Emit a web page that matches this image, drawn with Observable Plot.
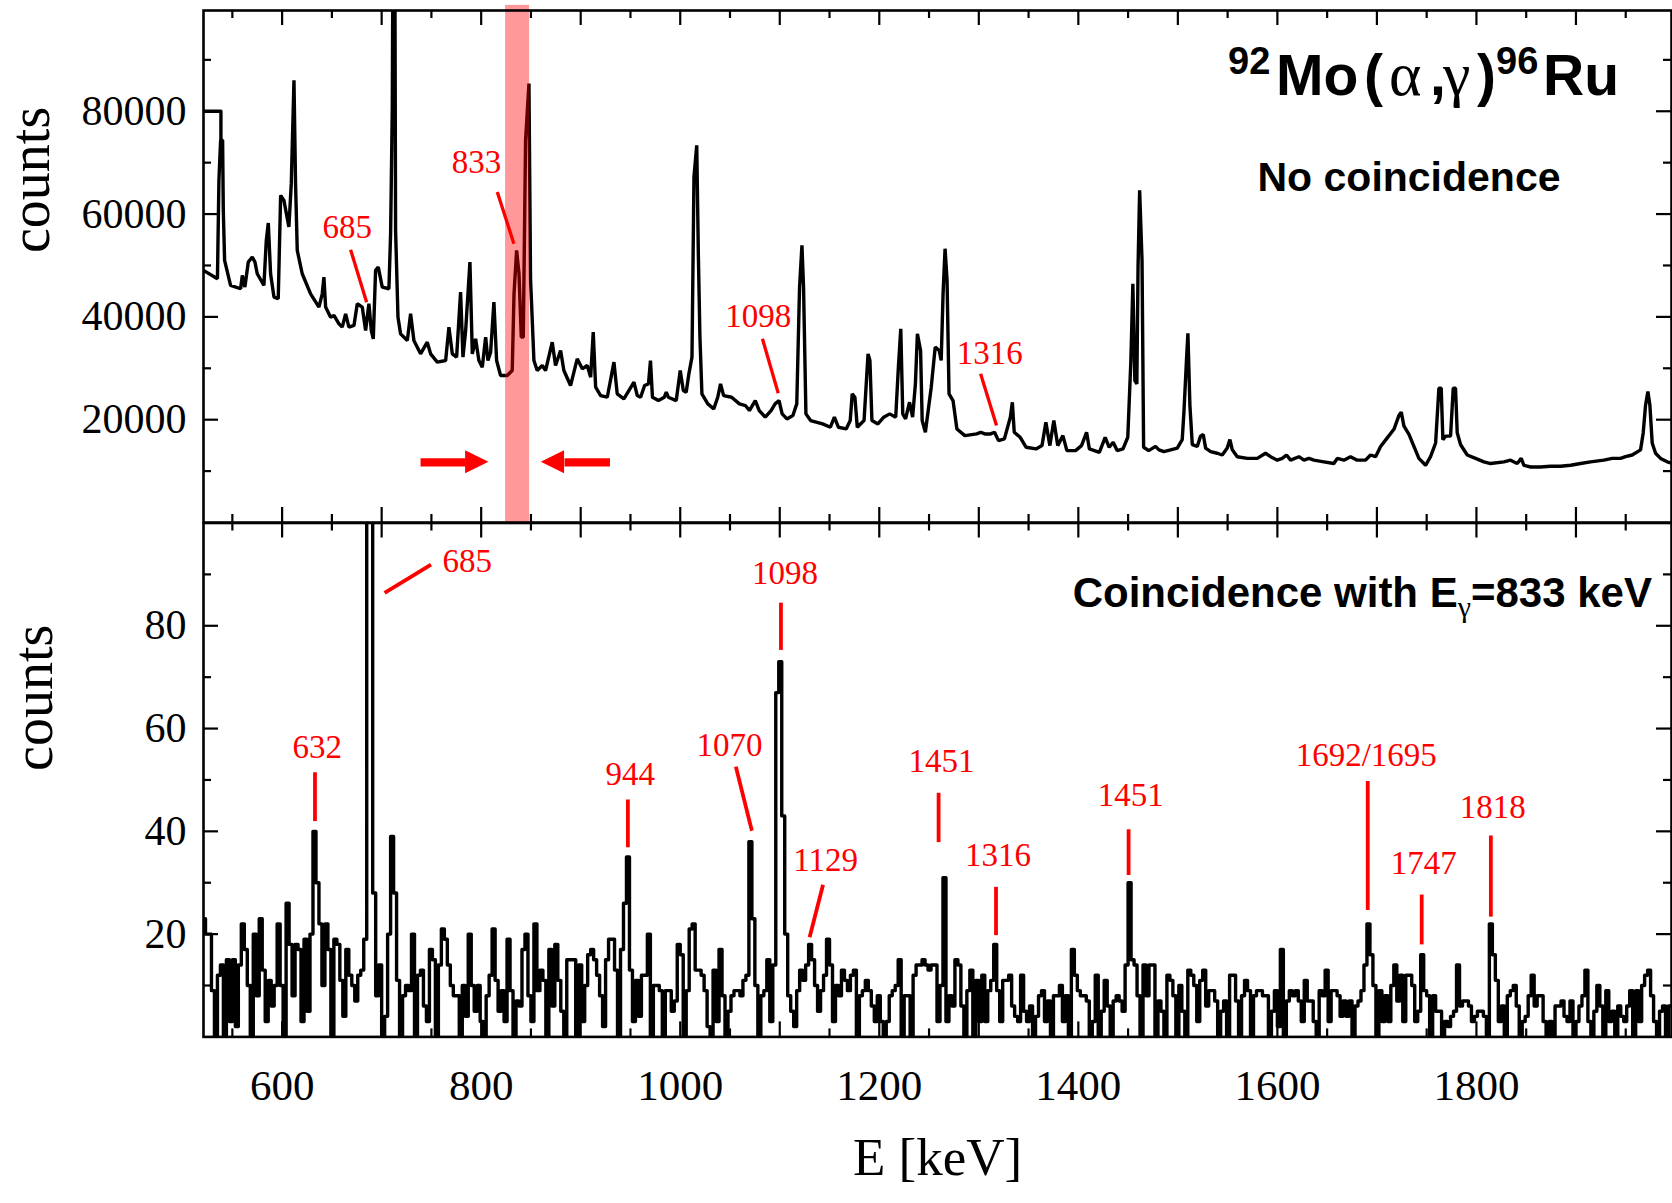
<!DOCTYPE html>
<html>
<head>
<meta charset="utf-8">
<script src="https://cdn.jsdelivr.net/npm/d3@7"></script>
<script src="https://cdn.jsdelivr.net/npm/@observablehq/plot@0.6"></script>
<style>
  html, body { margin: 0; padding: 0; background: #fff; }
  #chart { position: relative; width: 1672px; height: 1203px; overflow: hidden; background: #fff; }
  #top { position: absolute; left: 0; top: 0; }
  #bottom { position: absolute; left: 0; top: 521px; }
  svg { display: block; }
</style>
</head>
<body>
<div id="chart"><div id="bottom"></div><div id="top"></div></div>
<script>
// ---------------- data ----------------
const xTickLabels = [600, 800, 1000, 1200, 1400, 1600, 1800];
const xMajorTicks = [600, 700, 800, 900, 1000, 1100, 1200, 1300, 1400, 1500, 1600, 1700, 1800, 1900];
const xMinorTicks = [550, 650, 750, 850, 950, 1050, 1150, 1250, 1350, 1450, 1550, 1650, 1750, 1850, 1950];
const topYLabels = [20000, 40000, 60000, 80000];
const topYMinor = [10000, 30000, 50000, 70000, 90000];
const botYLabels = [20, 40, 60, 80];
const botYMinor = [10, 30, 50, 70, 90];

// singles spectrum ("No coincidence"): energy [keV] and counts
const topEnergy = [521,535,536.5,538.2,540.2,540.9,542.2,548.2,558.3,560,562.6,566,570,572.7,575,581.7,584.1,586.1,588.4,591.8,596.1,598.5,601.8,606.8,609.2,611.9,613.5,615.2,620.2,628.6,637,640.3,642,643.7,648.7,652.1,657.1,660.4,663.8,667.1,672.2,675.5,680.5,683.9,687.2,689.6,691.6,693.9,696.6,700.6,707.3,709,710.7,711.7,713,714,716.4,719,725.8,729.1,732.4,739.1,745.8,749.2,755.9,764.3,767.6,771,775.3,779.3,781.7,784.4,788.7,791.1,794.4,797.7,801.1,804.5,806.8,809.5,812.8,815.5,819.5,826.2,831.2,833,835.6,838,840.3,842.3,844.6,848,849.6,853,856.3,861.4,864.7,871.4,874.7,879.8,883.1,889.8,896.5,901.6,906.6,910,912.6,915,920,926.7,933.4,936.7,943.4,948.4,953.5,956.8,
960.2,964.2,968.1,970.1,972.1,978.1,984,986,988,996,1000,1003.1,1006,1008.7,1011.8,1013.8,1016.6,1018.2,1019.8,1021.8,1027.7,1033.7,1037.7,1040.5,1043.6,1051.6,1059.5,1065.5,1069.5,1075.4,1079.4,1085.4,1091.3,1095.3,1099.3,1102.4,1107.2,1113.2,1117.1,1119.9,1122.3,1123.9,1126.3,1131,1143,1150.9,1154.9,1158.9,1166.8,1170.8,1172.8,1175.5,1177.9,1184.7,1188.7,1190.6,1192.6,1198.6,1204.5,1210.5,1216.5,1219.2,1221.6,1223.6,1226.4,1230.4,1233.5,1236.3,1238.3,1241.5,1243.1,1246.3,1252.2,1256.2,1260.2,1262.2,1264.1,1266.1,1268.1,1270.1,1274.1,1278,1286,1298,1301.9,1306,1311.8,1315.8,1319.8,1325.7,1331.7,1333.7,1335.6,1341.6,1347.6,1357.5,1363.5,1367.4,1371.4,1375.4,1379.3,1384.5,1388.5,1397.2,1403.2,1408.3,1411.1,1421.1,1427,1431,1435,1439,1444.9,1449.7,1452.8,1454.8,1456.8,1458.8,1460,1461.6,1464,1465.6,1470.7,
1477.6,1481,1486,1492.7,1499.4,1504.4,1506.1,1508.8,1510.1,1512.1,1514.5,1519.5,1522.8,1525.5,1527.9,1532.9,1539.6,1544.6,1549.6,1552.3,1554.7,1559.7,1569.7,1579.8,1588.1,1593.2,1599.9,1604.9,1609.2,1613.3,1621.6,1626.7,1631.7,1636.7,1646.7,1656.8,1660.2,1666.8,1673.5,1680.2,1688.6,1693.6,1698.7,1703.7,1710.4,1717.1,1722.1,1724.5,1727.1,1732.2,1737.2,1742.2,1748.9,1753.9,1759,1762.3,1764.6,1766.3,1769,1774,1776.7,1779,1780.7,1784.1,1790.8,1799.1,1807.5,1814.2,1827.6,1834.3,1841,1845,1847.7,1854.4,1864.4,1874.5,1884.5,1894.6,1904.6,1914.7,1928,1936.4,1944.8,1949.8,1956.5,1964.9,1967.6,1969.9,1972.3,1974.3,1976.6,1980,1985,1991.7,1997];
const topCounts = [49040,47420,66560,74350,74350,60720,50980,46120,45470,48060,45790,50660,51640,50660,48390,46120,54880,58260,48390,43850,43520,63640,62670,57480,65920,86040,65920,52930,48390,44490,41900,44490,47740,41900,39950,40280,38650,38000,40600,38000,38330,42550,41900,37350,42550,37350,35730,49040,49690,45790,45470,56180,80840,130000,130000,56830,39950,36700,35400,40600,35400,32810,35080,32810,31190,31510,38000,32810,32160,44820,32160,37350,50660,32810,35730,31510,30210,36060,31510,33130,42870,31510,28590,28590,29570,44490,52930,48390,36060,36060,74350,85390,47420,31510,29570,30540,29570,35080,30540,33460,29570,26640,31840,29890,30540,28270,37030,26320,24700,24370,31190,25020,24050,25670,27290,24700,
24370,26640,26970,31510,24370,23720,24370,25340,24370,23720,29570,25670,25340,28920,32160,67210,73380,52280,36060,25020,23070,22100,24370,26970,24690,24370,23070,22750,21780,23720,21780,20480,21780,23070,23720,21130,20150,20800,23070,45790,53910,45790,21130,19830,19180,18530,20480,18530,18200,19830,25020,24370,18530,19830,32810,31510,19830,19180,20480,21130,20480,30210,37680,21130,20150,23390,20480,26970,36700,33460,19830,17560,26320,34110,33460,31510,44490,53260,47090,25020,23720,18200,16900,17230,17560,17230,17230,17560,15930,16260,20480,23390,17560,16580,14630,14310,14960,19500,14960,19830,14960,16900,13990,13990,14960,17560,14310,13660,16580,14630,15610,13990,14310,16580,31510,46440,27620,26970,49690,64620,50980,14630,13990,
14800,14130,13800,14130,14470,16130,21470,32130,36800,22800,15130,14800,16800,17130,14470,13800,13470,13130,14470,16130,14130,12800,12470,12470,13470,12800,12130,12470,13130,12130,12800,12130,12470,12130,11800,11470,12470,12130,12800,12130,12130,13130,12800,14800,16470,18130,20800,21470,18800,17130,14800,12470,11130,12800,15470,26130,26130,16130,16800,16800,26130,26130,17470,15130,13130,12470,11800,11470,11800,12130,11470,12470,11130,10800,10800,10930,10930,11130,11470,11800,12130,12470,12470,12800,13130,14130,17470,22800,25470,22800,15470,13470,12470,11800,11470];
// second trace at the left edge of the singles spectrum
const edgeEnergy = [521, 538.5, 538.5];
const edgeCounts = [80000, 80000, 74350];

// coincidence spectrum: 3 keV bins starting at 520 keV
const coincStart = 520, coincBin = 3;
const coincCounts = [
23,20,20,9,0,12,14,0,15,3, 15,2,14,22,17,10,0,20,8,23, 13,3,11,6,10,22,10,0,26,18, 8,18,17,3,19,5,20,40,30,22,
10,22,17,0,19,18,11,4,17,12, 10,7,12,13,19,150,150,28,8,14, 0,4,20,39,28,11,0,8,10,9, 20,0,12,13,6,3,17,15,0,14,
21,19,14,10,8,8,0,10,4,20, 10,5,10,3,0,8,12,21,11,5, 9,3,19,9,0,7,6,17,20,8, 3,22,9,13,11,0,17,6,18,11,
5,0,15,15,15,0,14,3,10,16, 17,15,12,8,2,15,19,19,13,0, 17,26,35,13,3,11,4,12,12,20, 0,10,10,9,0,9,9,5,7,18,
16,0,9,21,22,13,13,12,9,2, 0,13,3,17,8,0,5,8,9,9, 8,11,12,38,23,10,0,8,9,15, 3,14,67,73,43,20,8,5,2,9,
13,11,14,18,15,10,5,9,12,19, 14,3,10,8,13,11,9,12,13,0, 8,9,11,9,6,3,8,3,0,3, 8,9,10,15,0,8,8,0,12,14,
14,15,14,13,14,14,3,10,31,3, 8,6,15,14,6,0,9,13,0,11, 3,12,3,9,11,18,9,3,11,11, 12,6,4,3,12,5,3,6,0,4,
8,9,3,7,0,8,8,10,3,8, 0,17,12,9,8,8,7,0,3,12, 0,5,11,6,0,7,8,7,5,14, 30,15,14,8,0,14,8,14,14,0,
7,5,0,12,11,8,0,10,5,0, 13,12,10,3,11,13,6,9,9,7, 0,5,7,0,12,12,7,0,8,11, 9,0,8,9,9,8,8,0,5,9,
2,17,0,7,9,8,9,7,3,11, 7,7,3,0,9,8,13,3,9,9, 8,4,7,4,7,0,6,7,9,14, 22,16,10,0,9,3,8,3,10,14,
7,12,3,12,12,10,3,5,16,9, 8,0,8,5,5,0,3,2,4,5, 14,6,7,7,6,3,4,5,5,4, 0,22,16,11,3,6,0,8,9,10,
6,0,3,4,8,12,6,8,8,3, 0,3,0,6,6,7,4,3,7,0, 3,6,8,13,3,0,5,10,6,0, 9,3,5,0,6,4,3,6,9,0,
9,3,10,12,13,8,3,0,5,6, 0,6];

// gate window and arrows (keV / counts)
const gateLow = 824.5, gateHigh = 848.6, gateTop = 100600;
const arrowTail = [739.1, 929.4];
const arrowBase = [784.4, 883.8];
const arrowTip = [807.8, 860.4];
const arrowLevel = 11700, arrowHalf = 2240;

// annotations, upper panel
const topLabels = ["685", "833", "1098", "1316"];
const topLabelE = [665.5, 795.2, 1078.5, 1310.9];
const topLabelC = [57470, 70130, 40120, 32810];
const topLeadE1 = [668.8, 816.2, 1082.6, 1301.8];
const topLeadC1 = [53070, 64290, 35730, 28920];
const topLeadE2 = [684.9, 832.9, 1098.5, 1317.8];
const topLeadC2 = [42860, 54230, 25150, 18850];

// annotations, lower panel
const botLabels = ["685", "632", "944", "1070", "1098", "1129", "1451", "1316", "1451", "1692/1695", "1747", "1818"];
const botLabelE = [786, 635.3, 949.7, 1049.6, 1105.3, 1146.2, 1262.4, 1319.3, 1452.7, 1689.3, 1747, 1816.3];
const botLabelC = [92.6, 56.3, 51.1, 56.7, 90.2, 34.4, 53.6, 35.4, 46.9, 54.7, 33.7, 44.7];
const botLeadE1 = [703, 633, 947.4, 1055.9, 1101.2, 1143.5, 1259.6, 1317.3, 1450.5, 1690.8, 1745, 1814.5];
const botLeadC1 = [86.4, 51.5, 46.2, 52.6, 84.5, 29.6, 47.5, 29.2, 40.4, 49.8, 27.7, 39.2];
const botLeadE2 = [749.6, 633, 947.4, 1072, 1101.2, 1130, 1259.6, 1317.3, 1450.5, 1690.8, 1745, 1814.5];
const botLeadC2 = [91.9, 42, 36.9, 40.1, 75.3, 19.4, 37.9, 19.8, 31.5, 24.7, 18, 23.4];

// ---------------- build ----------------
const SERIF = "'Liberation Serif','Times New Roman',serif";
const SANS = "'Liberation Sans',Arial,Helvetica,sans-serif";
const xDomain = [521, 1996];
const W = 1672, ML = 203, MR = 1;
const plotW = W - ML - MR;

const topData = topEnergy.map((e, i) => ({e, c: topCounts[i]}));
const edgeData = edgeEnergy.map((e, i) => ({e, c: edgeCounts[i]}));
const coincData = coincCounts.map((c, i) => ({e: coincStart + coincBin * i, c}));
coincData.push({e: coincStart + coincBin * coincCounts.length, c: coincCounts[coincCounts.length - 1]});

const heads = [];
arrowTip.forEach((t, k) => {
  const pts = [{x: arrowBase[k], y1: arrowLevel - arrowHalf, y2: arrowLevel + arrowHalf, k},
               {x: t, y1: arrowLevel, y2: arrowLevel, k}];
  pts.sort((a, b) => a.x - b.x);
  heads.push(...pts);
});

function frameTicks(xMaj, xMin, yMaj, yMin, frameH) {
  const sw = 2.2, maj = 15, mn = 8;
  return [
    Plot.tickX(xMaj, {x: d => d, stroke: "black", strokeWidth: sw, insetBottom: frameH - maj}),
    Plot.tickX(xMaj, {x: d => d, stroke: "black", strokeWidth: sw, insetTop: frameH - maj}),
    Plot.tickX(xMin, {x: d => d, stroke: "black", strokeWidth: sw, insetBottom: frameH - mn}),
    Plot.tickX(xMin, {x: d => d, stroke: "black", strokeWidth: sw, insetTop: frameH - mn}),
    Plot.tickY(yMaj, {y: d => d, stroke: "black", strokeWidth: sw, insetRight: plotW - maj}),
    Plot.tickY(yMaj, {y: d => d, stroke: "black", strokeWidth: sw, insetLeft: plotW - maj}),
    Plot.tickY(yMin, {y: d => d, stroke: "black", strokeWidth: sw, insetRight: plotW - mn}),
    Plot.tickY(yMin, {y: d => d, stroke: "black", strokeWidth: sw, insetLeft: plotW - mn})
  ];
}

// ----- upper panel -----
const topH = 522, topMT = 10, topMB = 0;
const topSvg = Plot.plot({
  width: W, height: topH, marginLeft: ML, marginRight: MR, marginTop: topMT, marginBottom: topMB,
  x: {domain: xDomain, axis: null},
  y: {domain: [0, 99600], axis: null},
  style: {background: "white", color: "black", fontFamily: SERIF, overflow: "visible"},
  marks: [
    Plot.line(topData, {x: "e", y: "c", stroke: "black", strokeWidth: 3.4, strokeLinejoin: "miter", clip: true}),
    Plot.line(edgeData, {x: "e", y: "c", stroke: "black", strokeWidth: 3.4, clip: true}),
    Plot.rect([0], {x1: gateLow, x2: gateHigh, y1: 0, y2: gateTop, fill: "red", fillOpacity: 0.4}),
    ...frameTicks(xMajorTicks, xMinorTicks, topYLabels, topYMinor, topH - topMT - topMB),
    Plot.axisY(topYLabels, {anchor: "left", tickSize: 0, tickPadding: 17, fontSize: 42, fontFamily: SERIF,
      fill: "black", tickFormat: d => String(d), label: null}),
    Plot.frame({stroke: "black", strokeWidth: 2.6}),
    Plot.link(d3.range(topLabels.length), {x1: i => topLeadE1[i], y1: i => topLeadC1[i], x2: i => topLeadE2[i], y2: i => topLeadC2[i],
      stroke: "red", strokeWidth: 3.3}),
    Plot.text(d3.range(topLabels.length), {x: i => topLabelE[i], y: i => topLabelC[i], text: i => topLabels[i],
      fill: "red", fontSize: 33, fontFamily: SERIF}),
    Plot.link(d3.range(arrowTail.length), {x1: i => arrowTail[i], x2: i => arrowBase[i], y1: arrowLevel, y2: arrowLevel,
      stroke: "red", strokeWidth: 8.3}),
    Plot.areaY(heads, {x: "x", y1: "y1", y2: "y2", z: "k", fill: "red"}),
    Plot.text(["counts"], {frameAnchor: "left", text: d => d, rotate: -90, dx: -172, dy: -13.5,
      fontSize: 56, fontFamily: SERIF, fill: "black"})
  ]
});
document.getElementById("top").appendChild(topSvg);

// rich titles in the upper panel
{
  const s = d3.select(topSvg);
  const t = s.append("text").attr("fill", "black").attr("font-family", SANS).attr("font-weight", "bold")
    .attr("text-anchor", "start");
  const parts = [
    {t: "92", x: 1228, y: 74, size: 38},
    {t: "Mo", x: 1276, y: 94.7, size: 57},
    {t: "(", x: 1364, y: 94.7, size: 57},
    {t: "\u03B1", x: 1389, y: 94.7, size: 62, serif: true},
    {t: ",", x: 1430, y: 94.7, size: 57},
    {t: "\u03B3", x: 1443, y: 94.7, size: 62, serif: true},
    {t: ")", x: 1477, y: 94.7, size: 57},
    {t: "96", x: 1496, y: 74, size: 38},
    {t: "Ru", x: 1543, y: 94.7, size: 57}
  ];
  parts.forEach(p => {
    const ts = t.append("tspan").attr("x", p.x).attr("y", p.y).attr("font-size", p.size)
      .attr("text-anchor", "start").text(p.t);
    if (p.serif) ts.attr("font-family", SERIF).attr("font-weight", "normal");
  });
  s.append("text").attr("x", 1409).attr("y", 191).attr("text-anchor", "middle")
    .attr("font-family", SANS).attr("font-weight", "bold").attr("font-size", 41).attr("fill", "black")
    .text("No coincidence");
}

// ----- lower panel -----
const botH = 682, botMT = 1.5, botMB = 166.6;
const botSvg = Plot.plot({
  width: W, height: botH, marginLeft: ML, marginRight: MR, marginTop: botMT, marginBottom: botMB,
  x: {domain: xDomain, axis: null},
  y: {domain: [0, 100], axis: null},
  style: {background: "white", color: "black", fontFamily: SERIF, overflow: "visible"},
  marks: [
    Plot.line(coincData, {x: "e", y: "c", curve: "step-after", stroke: "black", strokeWidth: 3.4, clip: true}),
    ...frameTicks(xMajorTicks, xMinorTicks, botYLabels, botYMinor, botH - botMT - botMB),
    Plot.axisY(botYLabels, {anchor: "left", tickSize: 0, tickPadding: 17, fontSize: 42, fontFamily: SERIF,
      fill: "black", tickFormat: d => String(d), label: null}),
    Plot.axisX(xTickLabels, {anchor: "bottom", tickSize: 0, tickPadding: 33, fontSize: 43, fontFamily: SERIF,
      fill: "black", tickFormat: d => String(d), label: null}),
    Plot.frame({stroke: "black", strokeWidth: 2.6}),
    Plot.link(d3.range(botLabels.length), {x1: i => botLeadE1[i], y1: i => botLeadC1[i], x2: i => botLeadE2[i], y2: i => botLeadC2[i],
      stroke: "red", strokeWidth: 3.8}),
    Plot.text(d3.range(botLabels.length), {x: i => botLabelE[i], y: i => botLabelC[i], text: i => botLabels[i],
      fill: "red", fontSize: 33, fontFamily: SERIF}),
    Plot.text(["counts"], {frameAnchor: "left", text: d => d, rotate: -90, dx: -169, dy: -9,
      fontSize: 56, fontFamily: SERIF, fill: "black"}),
    Plot.text(["E [keV]"], {frameAnchor: "bottom", text: d => d, dy: 137.7, fontSize: 53, fontFamily: SERIF, fill: "black"})
  ]
});
document.getElementById("bottom").appendChild(botSvg);

{
  const s = d3.select(botSvg);
  const t = s.append("text").attr("x", 1652).attr("y", 86).attr("text-anchor", "end")
    .attr("font-family", SANS).attr("font-weight", "bold").attr("font-size", 42).attr("fill", "black");
  t.append("tspan").text("Coincidence with E");
  t.append("tspan").attr("dy", 10).attr("font-family", SERIF).attr("font-weight", "normal").attr("font-size", 30).text("\u03B3");
  t.append("tspan").attr("dy", -10).text("=833 keV");
}
</script>
</body>
</html>
